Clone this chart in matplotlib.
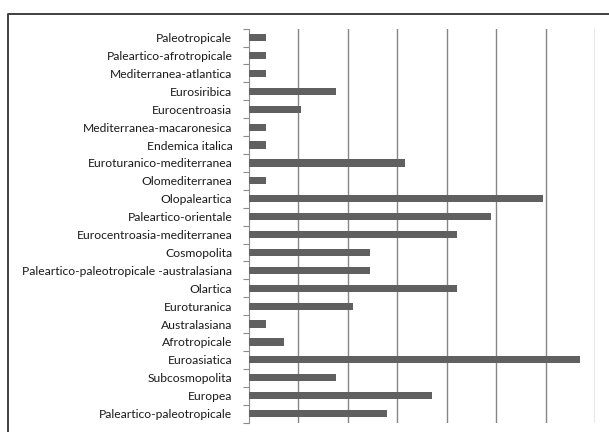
import matplotlib
matplotlib.use("Agg")
import matplotlib.pyplot as plt
import numpy as np
from matplotlib.lines import Line2D

# Chorological spectrum (% of species), listed top to bottom
categories = [
    "Paleotropicale",
    "Paleartico-afrotropicale",
    "Mediterranea-atlantica",
    "Eurosiribica",
    "Eurocentroasia",
    "Mediterranea-macaronesica",
    "Endemica italica",
    "Euroturanico-mediterranea",
    "Olomediterranea",
    "Olopaleartica",
    "Paleartico-orientale",
    "Eurocentroasia-mediterranea",
    "Cosmopolita",
    "Paleartico-paleotropicale -australasiana",
    "Olartica",
    "Euroturanica",
    "Australasiana",
    "Afrotropicale",
    "Euroasiatica",
    "Subcosmopolita",
    "Europea",
    "Paleartico-paleotropicale",
]
values = [0.7, 0.7, 0.7, 3.5, 2.1, 0.7, 0.7, 6.3, 0.7, 11.9, 9.8, 8.4,
          4.9, 4.9, 8.4, 4.2, 0.7, 1.4, 13.4, 3.5, 7.4, 5.6]
grid_ticks = [2, 4, 6, 8, 10, 12, 14]

W, H = 609, 432
fig = plt.figure(figsize=(W / 100, H / 100), dpi=100)
fig.patch.set_facecolor("white")

ax = fig.add_axes([249 / W, 1 - 422.5 / H, 346 / W, (422.5 - 28.7) / H])
y = np.arange(len(categories))
ax.barh(y, values, height=0.4, color="#606060", zorder=3)

ax.set_xlim(0, 14)
ax.set_ylim(len(categories) - 0.5, -0.5)

# vertical gridlines
for g in grid_ticks:
    ax.axvline(g, color="#858585", lw=1.0, zorder=1)

ax.set_xticks([])
ax.set_yticks(y)
ax.set_yticklabels(categories, fontsize=8.7, family="Lato", color="#1a1a1a")
ax.tick_params(axis="y", which="major", length=0, pad=12)
ax.set_yticks(np.arange(-0.5, len(categories), 1), minor=True)
ax.tick_params(axis="y", which="minor", length=4, width=0.8, color="#8c8c8c",
               direction="out")

for s in ["top", "right", "bottom"]:
    ax.spines[s].set_visible(False)
ax.spines["left"].set_color("#8c8c8c")
ax.spines["left"].set_linewidth(0.8)

# chart frame (top and left edges)
fig.add_artist(Line2D([8 / W, 8 / W, 1.0], [0.0, 1 - 14 / H, 1 - 14 / H],
                      transform=fig.transFigure, color="#404040", lw=1.4))

fig.savefig("out.png", dpi=100)
